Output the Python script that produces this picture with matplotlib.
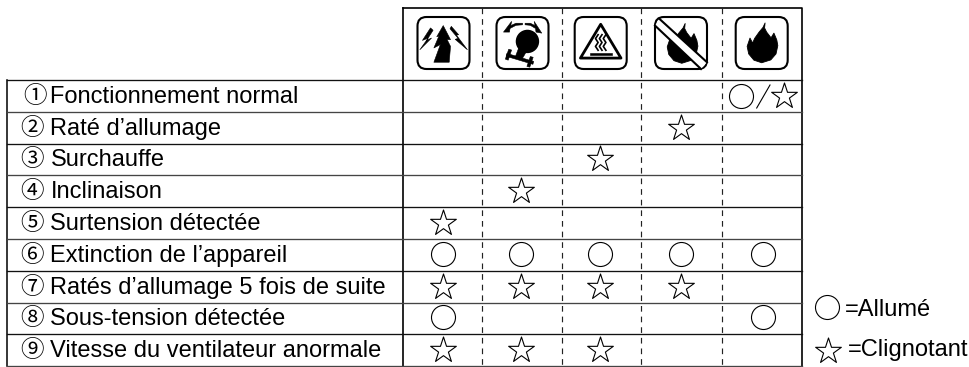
import matplotlib
matplotlib.use("Agg")
import matplotlib.pyplot as plt
from matplotlib.patches import FancyBboxPatch, Polygon, Circle

row_labels = ["Fonctionnement normal", "Raté d’allumage", "Surchauffe", "Inclinaison",
              "Surtension détectée", "Extinction de l’appareil",
              "Ratés d’allumage 5 fois de suite", "Sous-tension détectée",
              "Vitesse du ventilateur anormale"]
row_marks = ["①", "②", "③", "④", "⑤", "⑥", "⑦", "⑧", "⑨"]
# state per row / column: '' none, 'o' lit, '*' blinking, 'b' lit or blinking
states = [
    ["", "", "", "", "b"],
    ["", "", "", "*", ""],
    ["", "", "*", "", ""],
    ["", "*", "", "", ""],
    ["*", "", "", "", ""],
    ["o", "o", "o", "o", "o"],
    ["*", "*", "*", "*", ""],
    ["o", "", "", "", "o"],
    ["*", "*", "*", "", ""],
]
legend_lit = "=Allumé"
legend_blink = "=Clignotant"

W, H = 969, 367
FONT = ["Liberation Sans", "DejaVu Sans"]
CIRC = ["Noto Sans CJK JP", "DejaVu Sans"]

col_edges = [403, 482.4, 562.3, 640.8, 721.6, 802.5]
row_edges = [80, 112, 143.5, 175, 207, 239, 271, 302.5, 334, 366]
icon_cx = [443.5, 522.5, 600.7, 681, 761.7]
icon_cy = 43
IH = 26

fig = plt.figure(figsize=(W / 100, H / 100), dpi=100)
ax = fig.add_axes([0, 0, 1, 1])
ax.set_xlim(0, W)
ax.set_ylim(H, 0)
ax.axis("off")

INK = "#000000"
LW = 0.95
# table frame
ax.plot([403, 403], [7.5, 366], color=INK, lw=1.2)
ax.plot([403, 802.5, 802.5], [7.5, 7.5, 366], color=INK, lw=1.2)
ax.plot([7.5, 7.5], [80, 366], color=INK, lw=1.1)
for i, y in enumerate(row_edges):
    ax.plot([7.5, 802.5], [y, y], color="#111111" if i % 2 == 0 else "#444444", lw=LW)
for x in col_edges[1:-1]:
    ax.plot([x, x], [7.5, 366], color="#222222", lw=0.85, dashes=(4.8, 4.2))

# row text
for i, (m, t) in enumerate(zip(row_marks, row_labels)):
    y = (row_edges[i] + row_edges[i + 1]) / 2 + 0.5
    ax.text(35 if i == 0 else 32.5, y, m, family=CIRC, fontsize=17, ha="center", va="center", color=INK)
    ax.text(50.5, y + 0.5, t, family=FONT, fontsize=17, ha="left", va="center", color=INK)


def circle(x, y, s=24):
    ax.scatter([x], [y], s=(s * 0.72) ** 2, marker="o", facecolor="white", edgecolor=INK, lw=0.8, zorder=3)


def star(x, y, s=27):
    ax.scatter([x], [y], s=(s * 0.72) ** 2, marker="*", facecolor="white", edgecolor=INK, lw=0.8, zorder=3)


for r, row in enumerate(states):
    y = (row_edges[r] + row_edges[r + 1]) / 2
    for c, st in enumerate(row):
        x = icon_cx[c]
        if st == "o":
            circle(x + [-0.5, -1, -1, 0, 1.5][c], y - 1.5)
        elif st == "*":
            star(x + [-0.5, -1, -1, 0, 0][c], y)
        elif st == "b":
            circle(741, y)
            ax.plot([756.7, 770], [y + 12, y - 11], color=INK, lw=0.8)
            star(784.3, y)

# legend
circle(827, 307)
ax.text(845, 310, legend_lit, family=FONT, fontsize=17, va="center", ha="left", color=INK)
star(828, 351)
ax.text(848, 350, legend_blink, family=FONT, fontsize=17, va="center", ha="left", color=INK)


# icons
def U(cx, pts):
    return [(cx + px * IH, icon_cy + py * IH) for px, py in pts]


def box(cx):
    ax.add_patch(FancyBboxPatch((cx - IH + 8, icon_cy - IH + 8), 2 * IH - 16, 2 * IH - 16,
                                boxstyle="round,pad=8,rounding_size=9", fc="white", ec=INK, lw=1.5, zorder=2))


def fill(cx, pts, fc=INK, ec=INK, lw=0.4, z=3):
    ax.add_patch(Polygon(U(cx, pts), closed=True, fc=fc, ec=ec, lw=lw, zorder=z, joinstyle="round"))


def flame(cx, dx=0.0, dy=0.0):
    pts = [(0.13, -0.77), (0.11, -0.58), (0.19, -0.42), (0.36, -0.2), (0.47, -0.38), (0.58, -0.12), (0.62, 0.1),
           (0.55, 0.42), (0.35, 0.65), (0.0, 0.76), (-0.3, 0.66), (-0.5, 0.42), (-0.56, 0.13),
           (-0.45, -0.19), (-0.35, 0.0), (-0.27, -0.18), (-0.1, -0.42), (0.05, -0.6)]
    fill(cx, [(dx + a, dy + b) for a, b in pts], lw=0.6)


for cx in icon_cx:
    box(cx)

# surge icon
c = icon_cx[0]
fill(c, [(-0.01, -0.67), (0.27, -0.13), (0.14, -0.13), (0.27, 0.13), (0.22, 0.74), (-0.37, 0.74),
         (-0.12, 0.06), (-0.37, 0.19), (-0.17, -0.28), (-0.26, -0.24)])
fill(c, [(-0.5, -0.58), (-0.81, -0.1), (-0.59, -0.19), (-0.91, 0.26), (-0.46, -0.19), (-0.65, -0.1), (-0.4, -0.49)])
fill(c, [(0.3, -0.64), (0.58, -0.32), (0.5, -0.3), (0.92, 0.26), (0.45, -0.14), (0.56, -0.18), (0.25, -0.55)])

# tilt icon
c = icon_cx[1]
ax.add_patch(Circle((c + 0.19 * IH, icon_cy - 0.06 * IH), 0.45 * IH, fc=INK, ec="none", zorder=3))
fill(c, [(-0.15, 0.2), (0.2, 0.25), (-0.02, 0.62), (-0.28, 0.54)])
fill(c, [(-0.6, 0.4), (0.43, 0.71), (0.4, 0.82), (-0.63, 0.51)])
fill(c, [(-0.42, 0.27), (-0.53, 0.24), (-0.66, 0.62), (-0.55, 0.66)])
fill(c, [(0.41, 0.55), (0.3, 0.52), (0.17, 0.9), (0.28, 0.93)])
fill(c, [(-0.73, -0.42), (-0.42, -0.83), (-0.45, -0.67), (-0.25, -0.76), (0.0, -0.76), (0.0, -0.7),
         (-0.25, -0.68), (-0.48, -0.56), (-0.5, -0.42)])
fill(c, [(0.74, -0.38), (0.45, -0.83), (0.48, -0.67), (0.3, -0.76), (0.1, -0.76), (0.1, -0.7),
         (0.3, -0.68), (0.5, -0.56), (0.52, -0.42)])

# heat icon
c = icon_cx[2]
fill(c, [(0, -0.72), (0.78, 0.58), (-0.78, 0.58)], fc="white", lw=2.0)
for dx in (-0.15, 0.0, 0.15):
    ax.plot([c + (dx + d) * IH for d in (0.05, -0.05, 0.05, -0.05, 0.05)],
            [icon_cy + v * IH for v in (-0.32, -0.17, -0.02, 0.13, 0.28)], color=INK, lw=1.2, zorder=4)
fill(c, [(-0.41, 0.38), (0.42, 0.38), (0.42, 0.45), (-0.41, 0.45)])

# no-ignition icon
c = icon_cx[3]
flame(c, 0.03, 0.02)
fill(c, [(-0.82, -0.92), (1.0, 0.74), (0.77, 1.0), (-1.0, -0.67)], fc="white", ec="none", lw=0, z=4)
for seg in ([(-0.82, -0.92), (1.0, 0.74)], [(-1.0, -0.67), (0.77, 1.0)]):
    xy = U(c, seg)
    ax.plot([p[0] for p in xy], [p[1] for p in xy], color=INK, lw=1.5, zorder=5)

# flame icon
flame(icon_cx[4])

fig.savefig("out.png", dpi=100, facecolor="white")
